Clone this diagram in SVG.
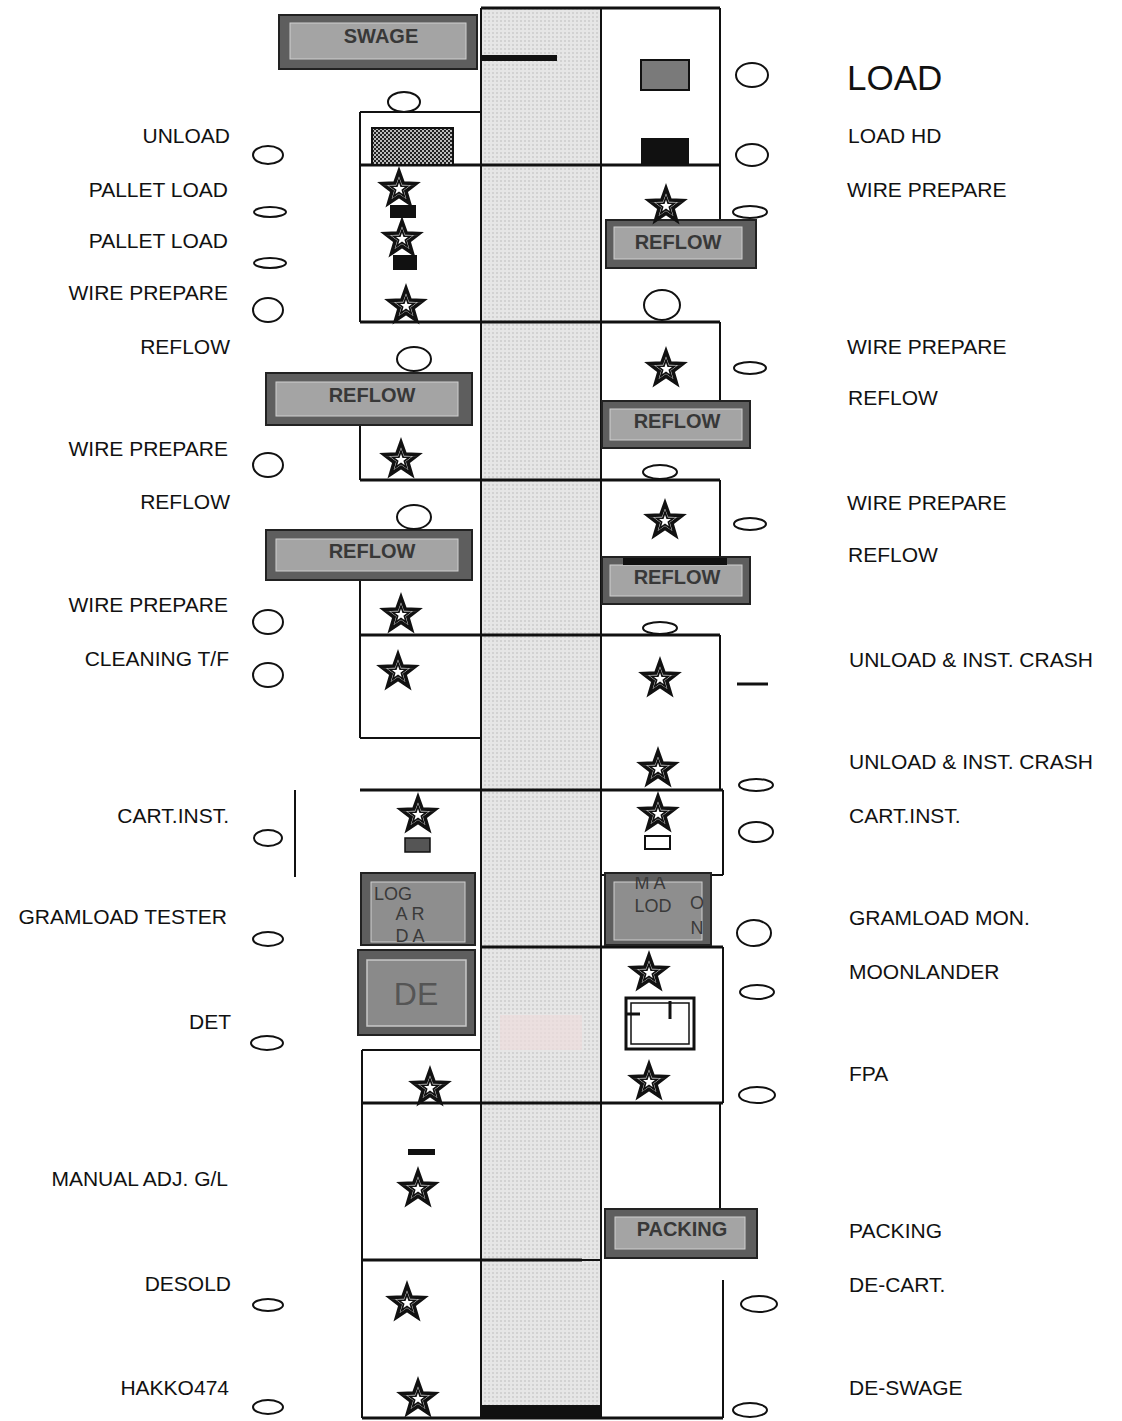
<svg xmlns="http://www.w3.org/2000/svg" width="1122" height="1421" viewBox="0 0 1122 1421">
<defs>
<style>
.lbl{font-family:"Liberation Sans",Arial,sans-serif;font-size:21px;fill:#111}
.lr{text-anchor:end}
.wall{stroke:#111;stroke-width:3;fill:none}
.thin{stroke:#111;stroke-width:2;fill:none}
.ell{fill:#fff;stroke:#111;stroke-width:2}
.boxo{fill:#5e5e5e;stroke:#222;stroke-width:2}
.boxi{fill:#a4a4a4;stroke:#cfcfcf;stroke-width:1}
.bt{font-family:"Liberation Sans",Arial,sans-serif;font-weight:bold;font-size:20px;fill:#383838;text-anchor:middle}
.st{font-family:"Liberation Sans",Arial,sans-serif;font-size:18px;fill:#3a3a3a;text-anchor:middle}
</style>
<pattern id="dots" width="4" height="4" patternUnits="userSpaceOnUse">
<rect width="4" height="4" fill="#e6e6e6"/>
<rect width="2" height="2" fill="#d2d2d2"/>
</pattern>
<pattern id="check" width="4" height="4" patternUnits="userSpaceOnUse">
<rect width="4" height="4" fill="#222"/>
<rect width="2" height="2" fill="#bbb"/>
<rect x="2" y="2" width="2" height="2" fill="#bbb"/>
</pattern>
<symbol id="star" viewBox="-18 -18 36 36" overflow="visible">
<path d="M0,-16 L3.8,-5.3 L15.2,-4.9 L6.2,2 L9.4,12.9 L0,6.5 L-9.4,12.9 L-6.2,2 L-15.2,-4.9 L-3.8,-5.3 Z" fill="#fff" stroke="#111" stroke-width="3.2" stroke-linejoin="miter"/>
<path d="M0,-8 L1.9,-2.6 L7.6,-2.5 L3.1,1 L4.7,6.5 L0,3.2 L-4.7,6.5 L-3.1,1 L-7.6,-2.5 L-1.9,-2.6 Z" fill="#fff" stroke="#111" stroke-width="1.6"/>
</symbol>
<clipPath id="clipL"><rect x="364" y="877" width="108" height="66"/></clipPath>
<clipPath id="clipR"><rect x="609" y="877" width="100" height="66"/></clipPath>
</defs>
<rect width="1122" height="1421" fill="#fff"/>

<!-- central aisle -->
<g id="aisle">
<rect x="481" y="8" width="120" height="1410" fill="url(#dots)"/>
<rect x="500" y="1015" width="82" height="35" fill="#ecdcdc" opacity="0.7"/>
<rect x="482" y="55" width="75" height="6" fill="#111"/>
<rect x="481" y="1405" width="120" height="13" fill="#111"/>
</g>

<!-- walls / connectors -->
<g id="connectors">
<line class="wall" x1="481" y1="8" x2="720" y2="8"/>
<line class="thin" x1="481" y1="8" x2="481" y2="1418"/>
<line class="thin" x1="601" y1="8" x2="601" y2="1418"/>
<line class="thin" x1="720" y1="8" x2="720" y2="220"/>
<line class="thin" x1="360" y1="112" x2="481" y2="112"/>
<line class="thin" x1="360" y1="112" x2="360" y2="322"/>
<line class="wall" x1="360" y1="165" x2="720" y2="165"/>
<line class="wall" x1="360" y1="322" x2="720" y2="322"/>
<line class="thin" x1="720" y1="322" x2="720" y2="400"/>
<line class="thin" x1="360" y1="425" x2="360" y2="480"/>
<line class="wall" x1="360" y1="480" x2="720" y2="480"/>
<line class="thin" x1="720" y1="480" x2="720" y2="556"/>
<line class="thin" x1="360" y1="580" x2="360" y2="635"/>
<line class="wall" x1="360" y1="635" x2="720" y2="635"/>
<line class="thin" x1="360" y1="635" x2="360" y2="738"/>
<line class="thin" x1="360" y1="738" x2="481" y2="738"/>
<line class="thin" x1="720" y1="635" x2="720" y2="790"/>
<line class="wall" x1="360" y1="790" x2="723" y2="790"/>
<line class="thin" x1="723" y1="790" x2="723" y2="875"/>
<line class="thin" x1="601" y1="875" x2="723" y2="875"/>
<line class="thin" x1="295" y1="790" x2="295" y2="877"/>
<line class="wall" x1="481" y1="947" x2="723" y2="947"/>
<line class="thin" x1="723" y1="947" x2="723" y2="1103"/>
<line class="thin" x1="362" y1="1050" x2="481" y2="1050"/>
<line class="thin" x1="362" y1="1050" x2="362" y2="1418"/>
<line class="wall" x1="362" y1="1103" x2="723" y2="1103"/>
<line class="thin" x1="720" y1="1103" x2="720" y2="1210"/>
<line class="wall" x1="362" y1="1260" x2="582" y2="1260"/>
<line class="thin" x1="582" y1="1260" x2="601" y2="1260"/>
<line class="thin" x1="723" y1="1280" x2="723" y2="1418"/>
<line class="wall" x1="362" y1="1418" x2="723" y2="1418"/>
</g>

<!-- machine boxes -->
<g id="swage"><rect class="boxo" x="279" y="15" width="198" height="54"/><rect class="boxi" x="290" y="23" width="176" height="36"/><text class="bt" x="381" y="43">SWAGE</text></g>
<g id="load-mach"><rect x="641" y="60" width="48" height="30" fill="#7a7a7a" stroke="#111" stroke-width="2"/></g>
<g id="loadhd-mach"><rect x="641" y="138" width="48" height="27" fill="#111"/></g>
<g id="unload-mach"><rect x="372" y="128" width="81" height="37" fill="url(#check)" stroke="#111" stroke-width="2"/></g>

<g id="reflow-r1"><rect class="boxo" x="606" y="220" width="150" height="48"/><rect class="boxi" x="614" y="227" width="128" height="32"/><text class="bt" x="678" y="249">REFLOW</text></g>
<g id="reflow-l1"><rect class="boxo" x="266" y="373" width="206" height="52"/><rect class="boxi" x="276" y="382" width="182" height="34"/><text class="bt" x="372" y="402">REFLOW</text></g>
<g id="reflow-r2"><rect class="boxo" x="602" y="401" width="148" height="47"/><rect class="boxi" x="610" y="409" width="132" height="31"/><text class="bt" x="677" y="428">REFLOW</text></g>
<g id="reflow-l2"><rect class="boxo" x="266" y="530" width="206" height="50"/><rect class="boxi" x="276" y="539" width="182" height="32"/><text class="bt" x="372" y="558">REFLOW</text></g>
<g id="reflow-r3"><rect class="boxo" x="602" y="557" width="148" height="47"/><rect class="boxi" x="610" y="565" width="132" height="31"/><rect x="623" y="558" width="104" height="7" fill="#111"/><text class="bt" x="677" y="584">REFLOW</text></g>

<g id="gramload-tester"><rect class="boxo" x="361" y="873" width="114" height="72"/><rect class="boxi" x="371" y="882" width="94" height="60" style="fill:#8e8e8e"/>
<g clip-path="url(#clipL)"><text class="st" x="393" y="900">LOG</text><text class="st" x="410" y="920">A  R</text><text class="st" x="410" y="942">D  A</text></g></g>
<g id="gramload-mon"><rect class="boxo" x="605" y="873" width="106" height="72"/><rect class="boxi" x="614" y="882" width="88" height="58" style="fill:#8e8e8e"/>
<g clip-path="url(#clipR)"><text class="st" x="650" y="889">M A</text><text class="st" x="653" y="912">LOD</text><text class="st" x="697" y="909">O</text><text class="st" x="697" y="934">N</text></g></g>
<g id="det"><rect class="boxo" x="358" y="950" width="117" height="85"/><rect x="367" y="960" width="99" height="66" fill="#8a8a8a" stroke="#c8c8c8" stroke-width="1.5"/><text class="st" x="416" y="1005" style="font-size:32px;fill:#555">DE</text></g>
<g id="moonlander"><rect x="626" y="998" width="68" height="51" fill="#fff" stroke="#111" stroke-width="3"/><rect x="631" y="1003" width="58" height="41" fill="none" stroke="#111" stroke-width="1.5"/><line x1="627" y1="1014" x2="640" y2="1014" stroke="#111" stroke-width="3"/><line x1="670" y1="1001" x2="670" y2="1019" stroke="#111" stroke-width="3"/></g>
<g id="packing"><rect class="boxo" x="605" y="1209" width="152" height="49"/><rect class="boxi" x="615" y="1217" width="130" height="32"/><text class="bt" x="682" y="1236">PACKING</text></g>
<g id="manual-mark"><rect x="408" y="1149" width="27" height="6" fill="#111"/></g>

<!-- stars -->
<g id="stars">
<rect x="390" y="205" width="26" height="13" fill="#111"/>
<rect x="393" y="255" width="24" height="15" fill="#111"/>
<use href="#star" x="379" y="169" width="40" height="40"/>
<use href="#star" x="382" y="219" width="40" height="40"/>
<use href="#star" x="386" y="286" width="40" height="40"/>
<use href="#star" x="646" y="186" width="40" height="40"/>
<use href="#star" x="646" y="349" width="40" height="40"/>
<use href="#star" x="381" y="440" width="40" height="40"/>
<use href="#star" x="645" y="501" width="40" height="40"/>
<use href="#star" x="381" y="595" width="40" height="40"/>
<use href="#star" x="378" y="652" width="40" height="40"/>
<use href="#star" x="640" y="659" width="40" height="40"/>
<use href="#star" x="638" y="749" width="40" height="40"/>
<rect x="405" y="838" width="25" height="14" fill="#555" stroke="#111" stroke-width="1.5"/>
<use href="#star" x="398" y="795" width="40" height="40"/>
<rect x="645" y="836" width="25" height="13" fill="#fff" stroke="#111" stroke-width="2"/>
<use href="#star" x="638" y="794" width="40" height="40"/>
<use href="#star" x="629" y="953" width="40" height="40"/>
<use href="#star" x="410" y="1068" width="40" height="40"/>
<use href="#star" x="629" y="1062" width="40" height="40"/>
<use href="#star" x="398" y="1169" width="40" height="40"/>
<use href="#star" x="387" y="1283" width="40" height="40"/>
<use href="#star" x="398" y="1379" width="40" height="40"/>
</g>

<!-- operator ellipses -->
<g id="operators">
<ellipse class="ell" cx="752" cy="75" rx="16" ry="12"/>
<ellipse class="ell" cx="752" cy="155" rx="16" ry="11"/>
<ellipse class="ell" cx="404" cy="102" rx="16" ry="10"/>
<ellipse class="ell" cx="268" cy="155" rx="15" ry="9"/>
<ellipse class="ell" cx="270" cy="212" rx="16" ry="5"/>
<ellipse class="ell" cx="270" cy="263" rx="16" ry="5"/>
<ellipse class="ell" cx="268" cy="310" rx="15" ry="12"/>
<ellipse class="ell" cx="750" cy="212" rx="17" ry="6"/>
<ellipse class="ell" cx="662" cy="305" rx="18" ry="15"/>
<ellipse class="ell" cx="414" cy="359" rx="17" ry="12"/>
<ellipse class="ell" cx="750" cy="368" rx="16" ry="6"/>
<ellipse class="ell" cx="268" cy="465" rx="15" ry="12"/>
<ellipse class="ell" cx="660" cy="472" rx="17" ry="7"/>
<ellipse class="ell" cx="414" cy="517" rx="17" ry="12"/>
<ellipse class="ell" cx="750" cy="524" rx="16" ry="6"/>
<ellipse class="ell" cx="268" cy="622" rx="15" ry="12"/>
<ellipse class="ell" cx="660" cy="628" rx="17" ry="6"/>
<ellipse class="ell" cx="268" cy="675" rx="15" ry="12"/>
<line x1="737" y1="684" x2="768" y2="684" stroke="#111" stroke-width="3"/>
<ellipse class="ell" cx="756" cy="785" rx="17" ry="6"/>
<ellipse class="ell" cx="268" cy="838" rx="14" ry="8"/>
<ellipse class="ell" cx="756" cy="832" rx="17" ry="10"/>
<ellipse class="ell" cx="268" cy="939" rx="15" ry="7"/>
<ellipse class="ell" cx="754" cy="933" rx="17" ry="13"/>
<ellipse class="ell" cx="757" cy="992" rx="17" ry="7"/>
<ellipse class="ell" cx="267" cy="1043" rx="16" ry="7"/>
<ellipse class="ell" cx="757" cy="1095" rx="18" ry="8"/>
<ellipse class="ell" cx="268" cy="1305" rx="15" ry="6"/>
<ellipse class="ell" cx="759" cy="1304" rx="18" ry="8"/>
<ellipse class="ell" cx="268" cy="1407" rx="15" ry="7"/>
<ellipse class="ell" cx="750" cy="1410" rx="17" ry="7"/>
</g>

<!-- left labels -->
<g id="labels-left">
<text class="lbl lr" x="230" y="143">UNLOAD</text>
<text class="lbl lr" x="228" y="197">PALLET LOAD</text>
<text class="lbl lr" x="228" y="248">PALLET LOAD</text>
<text class="lbl lr" x="228" y="300">WIRE PREPARE</text>
<text class="lbl lr" x="230" y="354">REFLOW</text>
<text class="lbl lr" x="228" y="456">WIRE PREPARE</text>
<text class="lbl lr" x="230" y="509">REFLOW</text>
<text class="lbl lr" x="228" y="612">WIRE PREPARE</text>
<text class="lbl lr" x="229" y="666">CLEANING T/F</text>
<text class="lbl lr" x="229" y="823">CART.INST.</text>
<text class="lbl lr" x="227" y="924">GRAMLOAD TESTER</text>
<text class="lbl lr" x="231" y="1029">DET</text>
<text class="lbl lr" x="228" y="1186">MANUAL ADJ. G/L</text>
<text class="lbl lr" x="231" y="1291">DESOLD</text>
<text class="lbl lr" x="229" y="1395">HAKKO474</text>
</g>

<!-- right labels -->
<g id="labels-right">
<text class="lbl" x="847" y="90" style="font-size:35px">LOAD</text>
<text class="lbl" x="848" y="143">LOAD HD</text>
<text class="lbl" x="847" y="197">WIRE PREPARE</text>
<text class="lbl" x="847" y="354">WIRE PREPARE</text>
<text class="lbl" x="848" y="405">REFLOW</text>
<text class="lbl" x="847" y="510">WIRE PREPARE</text>
<text class="lbl" x="848" y="562">REFLOW</text>
<text class="lbl" x="849" y="667">UNLOAD &amp; INST. CRASH</text>
<text class="lbl" x="849" y="769">UNLOAD &amp; INST. CRASH</text>
<text class="lbl" x="849" y="823">CART.INST.</text>
<text class="lbl" x="849" y="925">GRAMLOAD MON.</text>
<text class="lbl" x="849" y="979">MOONLANDER</text>
<text class="lbl" x="849" y="1081">FPA</text>
<text class="lbl" x="849" y="1238">PACKING</text>
<text class="lbl" x="849" y="1292">DE-CART.</text>
<text class="lbl" x="849" y="1395">DE-SWAGE</text>
</g>
</svg>
